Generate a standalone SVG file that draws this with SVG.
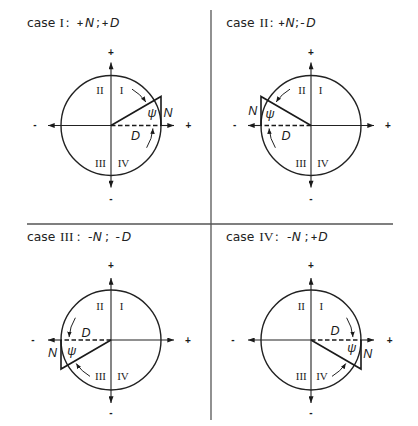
<svg xmlns="http://www.w3.org/2000/svg" width="418" height="426" viewBox="0 0 418 426">
<defs>
<style>
.ln{fill:none;stroke:#222;stroke-width:1.1}
.circ{fill:none;stroke:#222;stroke-width:1.4}
.tri{fill:none;stroke:#1a1a1a;stroke-width:1.6;stroke-linejoin:miter}
.dash{fill:none;stroke:#1a1a1a;stroke-width:1.6;stroke-dasharray:4.5 2.5}
.arc{fill:none;stroke:#222;stroke-width:1}
.sep{stroke:#555;stroke-width:1.3}
.title{font-family:"DejaVu Sans","Liberation Sans",Arial,sans-serif;font-size:12.3px;fill:#222}
.rom{font-family:"Liberation Serif","Times New Roman",serif;font-size:13.5px}
.it{font-style:italic}
.sg{font-size:8.5px;font-weight:bold}
.q{font-family:"Liberation Serif","Times New Roman",serif;font-size:11px;fill:#222;text-anchor:middle}
.v{font-family:"Liberation Sans",Arial,sans-serif;font-style:italic;font-size:12.5px;fill:#1a1a1a}
.m{text-anchor:middle}
.e{text-anchor:end}
.ax{font-family:"Liberation Sans",Arial,sans-serif;font-size:10px;font-weight:bold;fill:#1a1a1a;text-anchor:middle}
</style>
<marker id="ah" viewBox="0 0 8 6" refX="8" refY="3" markerWidth="8" markerHeight="5" markerUnits="userSpaceOnUse" orient="auto-start-reverse"><path d="M0,0 L8,3 L0,6 z" fill="#1a1a1a"/></marker>
<marker id="sh" viewBox="0 0 6 5" refX="6" refY="2.5" markerWidth="5.5" markerHeight="4.5" markerUnits="userSpaceOnUse" orient="auto"><path d="M0,0 L6,2.5 L0,5 z" fill="#1a1a1a"/></marker>
<g id="geom">
<circle class="circ" r="50"/>
<path class="ln" d="M0,-63 V62" marker-start="url(#ah)" marker-end="url(#ah)"/>
<path class="ln" d="M0,0 H-63" marker-end="url(#ah)"/>
<path class="ln" d="M50,0 H63" marker-end="url(#ah)"/>
<path class="dash" d="M0,0 H50"/>
<path class="tri" d="M0,0 L50,-29 V0"/>
<path class="arc" d="M21,-36.37 A42,42 0 0 1 34.82,-23.49" marker-end="url(#sh)"/>
<path class="arc" d="M35.62,22.26 A42,42 0 0 0 41.9,2.93" marker-end="url(#sh)"/>
</g>
</defs>
<rect width="418" height="426" fill="#fff"/>
<g id="separators">
<line class="sep" x1="211" y1="10" x2="211" y2="420"/>
<line class="sep" x1="27" y1="224" x2="393" y2="224"/>
</g>
<g id="case-I">
<use href="#geom" transform="translate(111,125.5)"/>
<text class="title" y="27"><tspan x="27">case</tspan><tspan class="rom" x="59.5">I</tspan><tspan x="65.5">:</tspan><tspan class="sg" x="76.5" dy="-1">+</tspan><tspan class="it" x="85" dy="1">N</tspan><tspan x="96">;</tspan><tspan class="sg" x="101.4" dy="-1">+</tspan><tspan class="it" x="110" dy="1">D</tspan></text>
<text class="q" x="100" y="93.5">II</text><text class="q" x="121.5" y="93.5">I</text>
<text class="q" x="100.5" y="166.7">III</text><text class="q" x="123.5" y="166.7">IV</text>
<text class="ax" x="111" y="55.5">+</text><text class="ax" x="111" y="201.8">-</text>
<text class="ax" x="35" y="128.3">-</text><text class="ax" x="188.5" y="129">+</text>
<text class="v" x="163.5" y="116.7">N</text><text class="v m" x="152" y="117">ψ</text><text class="v m" x="135.5" y="140">D</text>
</g>
<g id="case-II">
<use href="#geom" transform="translate(311,125.5) scale(-1,1)"/>
<text class="title" y="27"><tspan x="226.3">case</tspan><tspan class="rom" x="259.5">II</tspan><tspan x="269.5">:</tspan><tspan class="sg" x="278" dy="-1">+</tspan><tspan class="it" x="285.5" dy="1">N</tspan><tspan x="295">;</tspan><tspan x="300.3">-</tspan><tspan class="it" x="306.3">D</tspan></text>
<text class="q" x="302" y="93.5">II</text><text class="q" x="320.5" y="93.5">I</text>
<text class="q" x="301" y="166.7">III</text><text class="q" x="323" y="166.7">IV</text>
<text class="ax" x="311" y="55.5">+</text><text class="ax" x="311" y="201.8">-</text>
<text class="ax" x="234.7" y="128.3">-</text><text class="ax" x="388" y="129">+</text>
<text class="v e" x="257.3" y="115">N</text><text class="v m" x="270" y="118">ψ</text><text class="v m" x="286" y="140">D</text>
</g>
<g id="case-III">
<use href="#geom" transform="translate(111,340) scale(-1,-1)"/>
<text class="title" y="240.5"><tspan x="27">case</tspan><tspan class="rom" x="60">III</tspan><tspan x="76.4">:</tspan><tspan x="88">-</tspan><tspan class="it" x="92.7">N</tspan><tspan x="105">;</tspan><tspan x="115.5">-</tspan><tspan class="it" x="121.7">D</tspan></text>
<text class="q" x="100" y="310">II</text><text class="q" x="121.5" y="310">I</text>
<text class="q" x="100.5" y="380">III</text><text class="q" x="123" y="380">IV</text>
<text class="ax" x="111" y="269">+</text><text class="ax" x="111" y="415.8">-</text>
<text class="ax" x="33" y="342.8">-</text><text class="ax" x="188" y="343.5">+</text>
<text class="v e" x="57" y="356.7">N</text><text class="v m" x="71.7" y="355">ψ</text><text class="v m" x="86" y="336.7">D</text>
</g>
<g id="case-IV">
<use href="#geom" transform="translate(311,340) scale(1,-1)"/>
<text class="title" y="240.5"><tspan x="226">case</tspan><tspan class="rom" x="259.3">IV</tspan><tspan x="274.8">:</tspan><tspan x="287">-</tspan><tspan class="it" x="291.7">N</tspan><tspan x="304.5">;</tspan><tspan class="sg" x="310.5" dy="-1">+</tspan><tspan class="it" x="318.3" dy="1">D</tspan></text>
<text class="q" x="301.3" y="310">II</text><text class="q" x="321.3" y="310">I</text>
<text class="q" x="301.3" y="380">III</text><text class="q" x="322" y="380">IV</text>
<text class="ax" x="311" y="269">+</text><text class="ax" x="311" y="415.8">-</text>
<text class="ax" x="233" y="342.8">-</text><text class="ax" x="389.7" y="343.5">+</text>
<text class="v" x="363.3" y="358.3">N</text><text class="v m" x="351.7" y="352">ψ</text><text class="v m" x="335" y="335">D</text>
</g>
</svg>
